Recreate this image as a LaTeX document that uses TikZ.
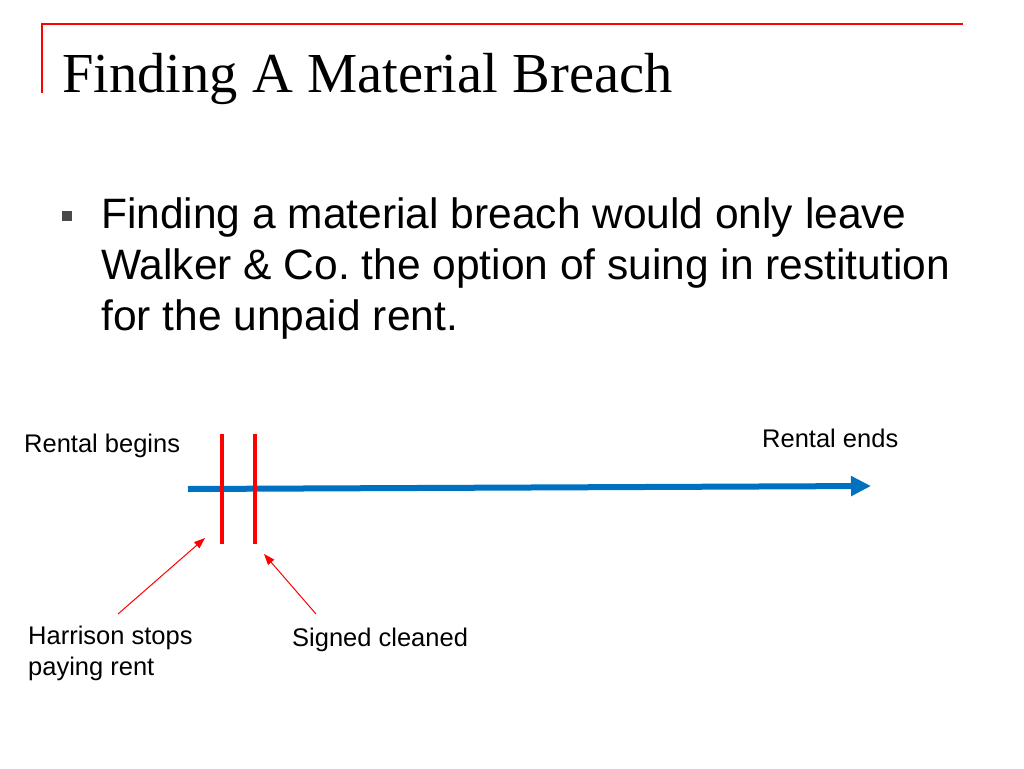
\documentclass[tikz,border=0pt]{standalone}
\usepackage{fontspec}
\setmainfont{Liberation Sans}
\newfontfamily\titlefont{Liberation Serif}
\usetikzlibrary{arrows.meta}
\definecolor{tlblue}{HTML}{0070C0}
\definecolor{bulletgray}{HTML}{4A4A4A}
\tikzset{
  txt/.style={inner sep=0pt, anchor=base west},
  bodytxt/.style={txt, font=\fontsize{42.5}{51}\selectfont},
  lbl/.style={txt, font=\fontsize{25.5}{30}\selectfont},
  redtick/.style={draw=red, line width=4pt},
  pointer/.style={draw=red, line width=1pt, -{Triangle[length=11pt,width=8pt]}},
}
\frenchspacing
\begin{document}
\begin{tikzpicture}[x=1pt,y=-1pt]
\useasboundingbox (0,0) rectangle (1024,768);
% header rule
\draw[red, line width=2pt] (963,24) -- (42,24) -- (42,93);
\node[txt, font=\titlefont\fontsize{56.5}{60}\selectfont] (title) at (62,92) {Finding A Material Breach};
% bullet
\node[fill=bulletgray, minimum size=10.5pt, inner sep=0pt] (bullet) at (67,216) {};
\node[bodytxt] (body1) at (101,228) {Finding a material breach would only leave};
\node[bodytxt] (body2) at (101,279) {Walker \& Co.\ the option of suing in restitution};
\node[bodytxt] (body3) at (101,330) {for the unpaid rent.};
% timeline
\coordinate (tstart) at (188,489);
\coordinate (tend) at (871,486);
\draw[tlblue, line width=6pt, -{Triangle[length=20pt,width=19pt]}] (tstart) -- (tend);
\coordinate (m1top) at (222,434);
\coordinate (m1bot) at (222,544);
\coordinate (m2top) at (255,434);
\coordinate (m2bot) at (255,544);
\draw[redtick] (m1top) -- (m1bot);
\draw[redtick] (m2top) -- (m2bot);
% labels
\node[lbl] (begins) at (24,452) {Rental begins};
\node[lbl] (ends) at (762,447) {Rental ends};
\node[lbl] (harrison1) at (28,644) {Harrison stops};
\node[lbl] (harrison2) at (28,675) {paying rent};
\node[lbl] (signed) at (292,646) {Signed cleaned};
% pointers
\coordinate (p1s) at (118,614);
\coordinate (p1e) at (205,538);
\coordinate (p2s) at (316,614);
\coordinate (p2e) at (264,554);
\draw[pointer] (p1s) -- (p1e);
\draw[pointer] (p2s) -- (p2e);
\end{tikzpicture}
\end{document}
